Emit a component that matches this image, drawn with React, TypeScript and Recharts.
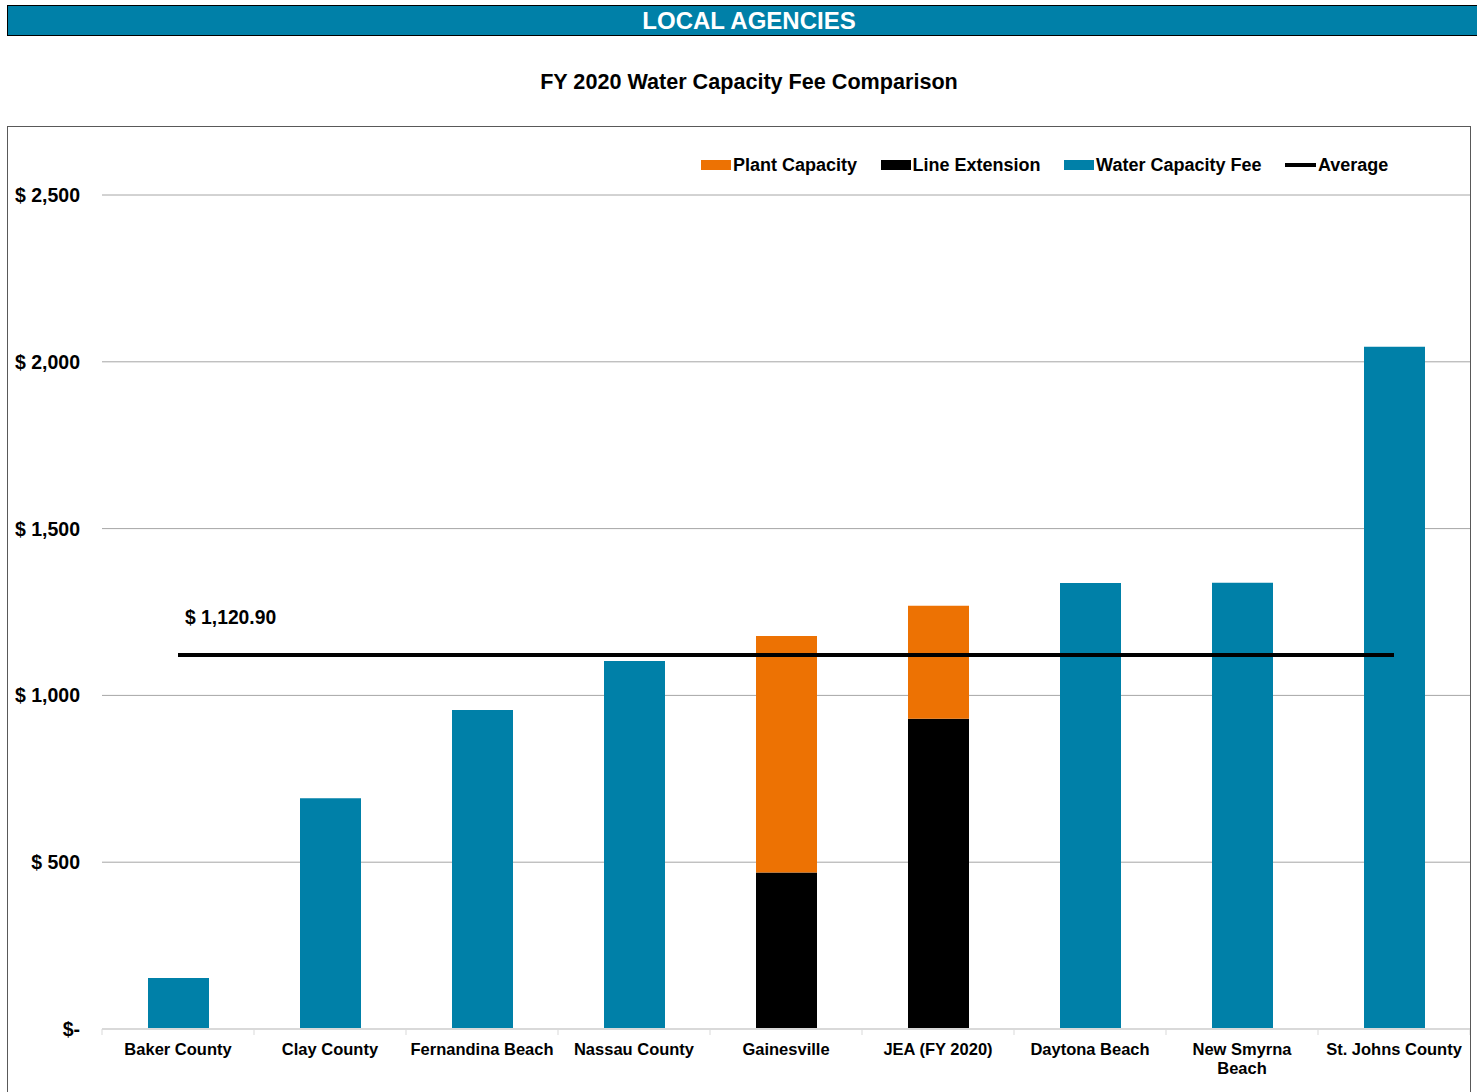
import React from "react";
import {
  Bar,
  CartesianGrid,
  ComposedChart,
  LabelList,
  Line,
  XAxis,
  YAxis,
} from "recharts";

// values
const categories = [
  "Baker County",
  "Clay County",
  "Fernandina Beach",
  "Nassau County",
  "Gainesville",
  "JEA (FY 2020)",
  "Daytona Beach",
  "New Smyrna\nBeach",
  "St. Johns County",
];
const waterCapacityFee = [153, 692, 956, 1103, 0, 0, 1337, 1338, 2045];
const lineExtension = [0, 0, 0, 0, 469, 930, 0, 0, 0];
const plantCapacity = [0, 0, 0, 0, 709, 339, 0, 0, 0];
const averageFee = 1120.9;
const yTicks = [0, 500, 1000, 1500, 2000, 2500];

const TEAL = "#0080A8";
const ORANGE = "#ED7203";
const FONT = "'Liberation Sans', Arial, sans-serif";

const PLOT_W = 1368;
const BAND = PLOT_W / categories.length;

const data = categories.map((category, i) => ({
  category,
  water: waterCapacityFee[i],
  lineExt: lineExtension[i],
  plant: plantCapacity[i],
  average: averageFee,
}));

const money = (v: number) =>
  v === 0 ? "$-" : "$ " + v.toLocaleString("en-US");

const YTick = (props: any) => {
  const { y, payload } = props;
  return (
    <text
      x={72}
      y={y}
      dy={7}
      textAnchor="end"
      fontSize={19.5}
      fontWeight="bold"
      fill="#000"
    >
      {money(payload.value)}
    </text>
  );
};

const XTick = (props: any) => {
  const { x, y, payload, index } = props;
  const axisY = y - 8;
  const lines = String(payload.value).split("\n");
  return (
    <g>
      <line
        x1={x - BAND / 2}
        x2={x - BAND / 2}
        y1={axisY}
        y2={axisY + 6}
        stroke="#d9d9d9"
      />
      {index === categories.length - 1 && (
        <line
          x1={x + BAND / 2}
          x2={x + BAND / 2}
          y1={axisY}
          y2={axisY + 6}
          stroke="#d9d9d9"
        />
      )}
      <text textAnchor="middle" fontSize={16.5} fontWeight="bold" fill="#000">
        {lines.map((l, i) => (
          <tspan key={i} x={x} y={axisY + 26 + i * 19}>
            {l}
          </tspan>
        ))}
      </text>
    </g>
  );
};

const AverageLabel = (props: any) => {
  const { x, y, index } = props;
  if (index !== 0) return null;
  return (
    <text x={x + 7} y={y - 31} fontSize={19.3} fontWeight="bold" fill="#000">
      {"$ " + averageFee.toLocaleString("en-US", { minimumFractionDigits: 2 })}
    </text>
  );
};

const legendItems = [
  { name: "Plant Capacity", color: ORANGE, line: false },
  { name: "Line Extension", color: "#000", line: false },
  { name: "Water Capacity Fee", color: TEAL, line: false },
  { name: "Average", color: "#000", line: true },
];

const ChartLegend = () => (
  <div
    style={{
      position: "absolute",
      left: 701,
      top: 154,
      display: "flex",
      alignItems: "center",
      height: 22,
    }}
  >
    {legendItems.map((it) => (
      <div
        key={it.name}
        style={{ display: "flex", alignItems: "center", marginRight: 23.5 }}
      >
        <span
          style={{
            display: "inline-block",
            width: it.line ? 31 : 30,
            height: it.line ? 4 : 10,
            background: it.color,
            marginRight: 2,
          }}
        />
        <span style={{ fontSize: 18, fontWeight: "bold", color: "#000" }}>
          {it.name}
        </span>
      </div>
    ))}
  </div>
);

const App = function () {
  return (
    <div
      style={{
        position: "absolute",
        left: 0,
        top: 0,
        width: 1477,
        height: 1092,
        overflow: "hidden",
        background: "#fff",
        fontFamily: FONT,
      }}
    >
      <div
        style={{
          position: "absolute",
          left: 7,
          top: 5,
          width: 1484,
          height: 31,
          boxSizing: "border-box",
          background: TEAL,
          border: "1.5px solid #000",
          color: "#fff",
          fontWeight: "bold",
          fontSize: 24,
          lineHeight: "29px",
          textAlign: "center",
        }}
      >
        LOCAL AGENCIES
      </div>
      <div
        style={{
          position: "absolute",
          left: 7,
          top: 68,
          width: 1484,
          textAlign: "center",
          fontWeight: "bold",
          fontSize: 21.6,
          lineHeight: "27px",
          color: "#000",
        }}
      >
        FY 2020 Water Capacity Fee Comparison
      </div>
      <div
        style={{
          position: "absolute",
          left: 7,
          top: 126,
          width: 1464,
          height: 1000,
          boxSizing: "border-box",
          border: "1px solid #595959",
        }}
      >
        <ComposedChart
          width={1462}
          height={962}
          data={data}
          margin={{ top: 68, right: 0, left: 0, bottom: 0 }}
        >
          <CartesianGrid vertical={false} stroke="#a6a6a6" />
          <XAxis
            dataKey="category"
            interval={0}
            height={60}
            tickLine={false}
            axisLine={{ stroke: "#d9d9d9", strokeWidth: 2 }}
            tick={<XTick />}
          />
          <YAxis
            width={94}
            domain={[0, 2500]}
            ticks={yTicks}
            tickLine={false}
            axisLine={false}
            tick={<YTick />}
          />
          <Bar
            dataKey="water"
            name="Water Capacity Fee"
            stackId="a"
            fill={TEAL}
            barSize={61}
            isAnimationActive={false}
          />
          <Bar
            dataKey="lineExt"
            name="Line Extension"
            stackId="a"
            fill="#000"
            barSize={61}
            isAnimationActive={false}
          />
          <Bar
            dataKey="plant"
            name="Plant Capacity"
            stackId="a"
            fill={ORANGE}
            barSize={61}
            isAnimationActive={false}
          />
          <Line
            dataKey="average"
            name="Average"
            type="linear"
            stroke="#000"
            strokeWidth={4}
            dot={false}
            activeDot={false}
            isAnimationActive={false}
          >
            <LabelList dataKey="average" content={<AverageLabel />} />
          </Line>
        </ComposedChart>
      </div>
      <ChartLegend />
    </div>
  );
};

export default App;
